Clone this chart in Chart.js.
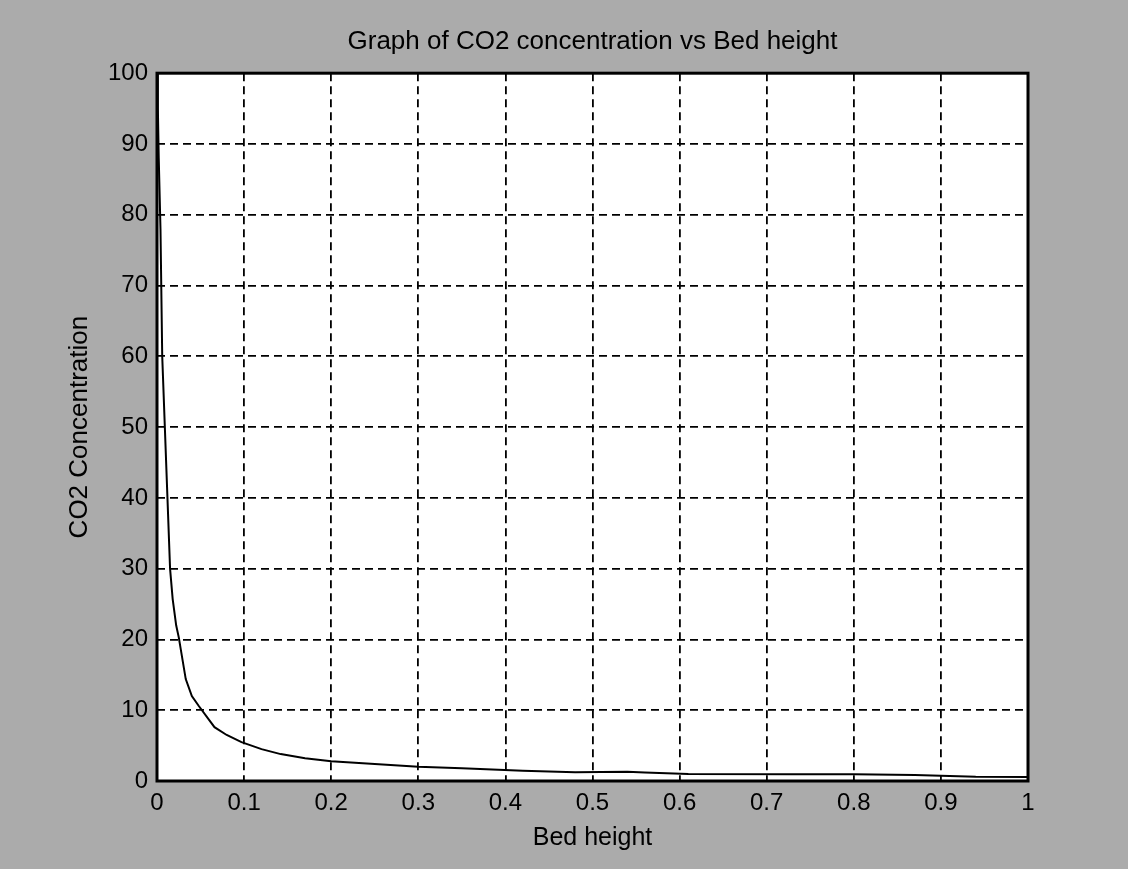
<!DOCTYPE html>
<html>
<head>
<meta charset="utf-8">
<title>CO2 concentration vs Bed height</title>
<script src="https://cdn.jsdelivr.net/npm/chart.js@4"></script>
<style>
    html, body { margin: 0; padding: 0; background: #ababab; }
    #theChart { display: block; }
</style>
</head>
<body>
<canvas id="theChart" width="1128" height="869"></canvas>
<script>
// Bed height (x) and CO2 concentration (y) along the curve
const bedHeight = [0, 0.001, 0.002, 0.004, 0.006, 0.009, 0.012, 0.015, 0.018, 0.022, 0.025, 0.033, 0.04,
    0.048, 0.066, 0.08, 0.097, 0.12, 0.142, 0.17, 0.2, 0.25, 0.3, 0.35, 0.42, 0.48, 0.54, 0.56, 0.61,
    0.73, 0.8, 0.87, 0.94, 1.0];
const co2Conc = [100, 95, 88, 78, 60, 50, 40, 30, 25.7, 22, 20.3, 14.4, 12,
    10.6, 7.6, 6.5, 5.5, 4.5, 3.8, 3.2, 2.8, 2.4, 2.0, 1.8, 1.45, 1.25, 1.3, 1.2, 1.0,
    0.95, 0.95, 0.85, 0.6, 0.55];

const xTickLabels = ["0", "0.1", "0.2", "0.3", "0.4", "0.5", "0.6", "0.7", "0.8", "0.9", "1"];
const yTickLabels = ["0", "10", "20", "30", "40", "50", "60", "70", "80", "90", "100"];

const fontFamily = "'Liberation Sans', Arial, sans-serif";

// white plot box + black frame, like a MATLAB axes
const plotBox = {
    id: "plotBox",
    beforeDraw(chart) {
        const { ctx, chartArea: a } = chart;
        ctx.save();
        ctx.fillStyle = "#ffffff";
        ctx.fillRect(a.left, a.top, a.right - a.left, a.bottom - a.top);
        ctx.restore();
    },
    afterDatasetsDraw(chart) {
        const { ctx, chartArea: a } = chart;
        ctx.save();
        ctx.strokeStyle = "#000000";
        ctx.lineWidth = 3;
        ctx.setLineDash([]);
        ctx.strokeRect(a.left, a.top, a.right - a.left, a.bottom - a.top);
        ctx.restore();
    }
};

const points = bedHeight.map((x, i) => ({ x: x, y: co2Conc[i] }));

const ctx = document.getElementById("theChart");
new Chart(ctx, {
    type: "line",
    data: {
        datasets: [{
            data: points,
            borderColor: "#000000",
            borderWidth: 2,
            pointRadius: 0,
            tension: 0,
            fill: false
        }]
    },
    options: {
        responsive: false,
        animation: false,
        layout: { padding: { top: 0, left: 0, right: 100, bottom: 0 } },
        plugins: {
            legend: { display: false },
            tooltip: { enabled: false },
            title: {
                display: true,
                fullSize: false, // centre over the plot box only
                text: "Graph of CO2 concentration vs Bed height",
                color: "#000000",
                font: { family: fontFamily, size: 26, weight: "normal" },
                padding: { top: 26, bottom: 16 }
            }
        },
        scales: {
            x: {
                type: "linear",
                min: 0,
                max: 1,
                afterBuildTicks: (scale) => {
                    scale.ticks = xTickLabels.map((t) => ({ value: parseFloat(t) }));
                },
                afterFit: (scale) => { scale.height = 88; },
                grid: { color: "#000000", lineWidth: 1.8, drawTicks: false },
                border: { display: false, dash: [8, 5] },
                ticks: {
                    color: "#000000",
                    padding: 8,
                    maxRotation: 0,
                    autoSkip: false,
                    font: { family: fontFamily, size: 24 },
                    callback: (v, i) => xTickLabels[i]
                },
                title: {
                    display: true,
                    text: "Bed height",
                    color: "#000000",
                    font: { family: fontFamily, size: 25 },
                    padding: { top: 0, bottom: 16 }
                }
            },
            y: {
                min: 0,
                max: 100,
                afterBuildTicks: (scale) => {
                    scale.ticks = yTickLabels.map((t) => ({ value: parseFloat(t) }));
                },
                afterFit: (scale) => { scale.width = 157; },
                grid: { color: "#000000", lineWidth: 1.8, drawTicks: false },
                border: { display: false, dash: [8, 5] },
                ticks: {
                    color: "#000000",
                    padding: 9,
                    autoSkip: false,
                    font: { family: fontFamily, size: 24 },
                    callback: (v, i) => yTickLabels[i]
                },
                title: {
                    display: true,
                    text: "CO2 Concentration",
                    color: "#000000",
                    font: { family: fontFamily, size: 26 },
                    padding: { top: 64, bottom: 0 }
                }
            }
        }
    },
    plugins: [plotBox]
});
</script>
</body>
</html>
